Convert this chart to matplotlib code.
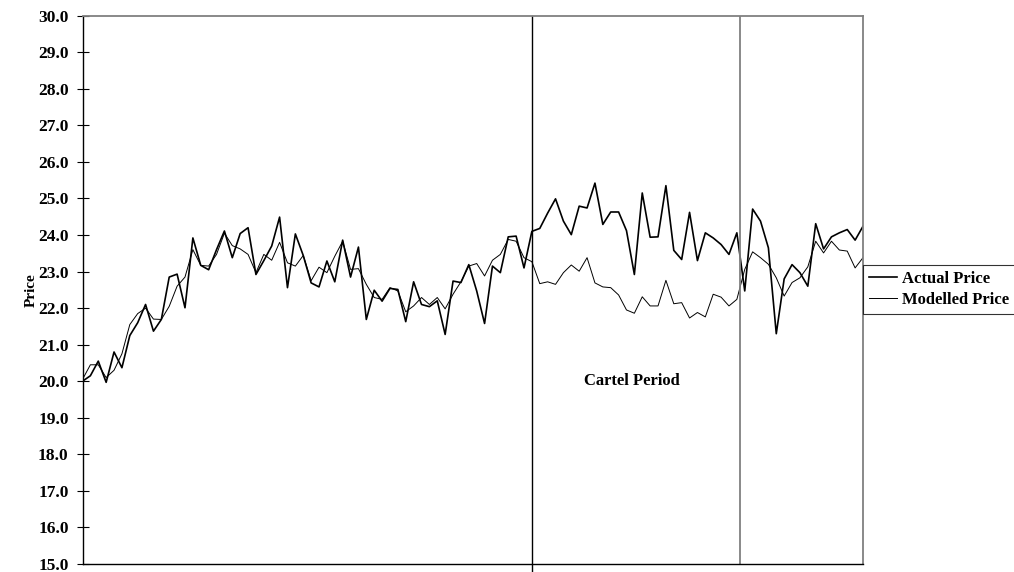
import numpy as np
import matplotlib.pyplot as plt

actual_price = [
    20.00, 20.15, 20.55, 19.97, 20.80, 20.37, 21.25, 21.60, 22.10, 21.37,
    21.69, 22.85, 22.93, 22.01, 23.92, 23.17, 23.05, 23.60, 24.11, 23.38,
    24.04, 24.20, 22.92, 23.30, 23.70, 24.49, 22.56, 24.03, 23.44, 22.69,
    22.58, 23.29, 22.72, 23.86, 22.85, 23.67, 21.69, 22.49, 22.19, 22.54,
    22.51, 21.63, 22.72, 22.10, 22.04, 22.20, 21.28, 22.74, 22.70, 23.19,
    22.47, 21.58, 23.15, 22.97, 23.95, 23.97, 23.10, 24.10, 24.18, 24.60,
    24.99, 24.38, 24.01, 24.79, 24.74, 25.42, 24.29, 24.63, 24.63, 24.12,
    22.92, 25.15, 23.94, 23.95, 25.35, 23.58, 23.33, 24.62, 23.30, 24.06,
    23.92, 23.74, 23.47, 24.06, 22.47, 24.71, 24.38, 23.65, 21.30, 22.80,
    23.19, 22.97, 22.60, 24.31, 23.62, 23.95, 24.06, 24.15, 23.86, 24.24,
]
modelled_price = [
    20.05, 20.45, 20.45, 20.10, 20.30, 20.75, 21.55, 21.85, 22.00, 21.70,
    21.69, 22.05, 22.60, 22.85, 23.60, 23.17, 23.15, 23.47, 24.05, 23.71,
    23.62, 23.47, 22.97, 23.47, 23.31, 23.80, 23.24, 23.15, 23.44, 22.75,
    23.12, 22.97, 23.42, 23.83, 23.06, 23.08, 22.65, 22.29, 22.24, 22.56,
    22.47, 21.90, 22.06, 22.29, 22.10, 22.29, 21.98, 22.38, 22.72, 23.15,
    23.22, 22.88, 23.31, 23.47, 23.88, 23.83, 23.38, 23.27, 22.67, 22.72,
    22.65, 22.97, 23.18, 23.01, 23.38, 22.69, 22.58, 22.56, 22.36, 21.95,
    21.86, 22.31, 22.06, 22.06, 22.76, 22.12, 22.15, 21.73, 21.88, 21.76,
    22.38, 22.30, 22.06, 22.24, 23.06, 23.54, 23.38, 23.20, 22.83, 22.33,
    22.70, 22.83, 23.13, 23.83, 23.51, 23.83, 23.59, 23.56, 23.10, 23.38,
]
cartel_start = 57.0
cartel_end = 83.35
y_ticks = np.arange(15.0, 30.5, 1.0)

serif = ['Liberation Serif', 'DejaVu Serif']

fig = plt.figure(figsize=(10.14, 5.72), dpi=100)
ax = fig.add_axes([82.5 / 1014, 1 - 564 / 572, (863 - 82.5) / 1014, (564 - 15.7) / 572])

months = np.arange(len(actual_price))
ax.plot(months, actual_price, color='black', lw=1.2, label='Actual Price')
ax.plot(months, modelled_price, color='black', lw=0.7, label='Modelled Price')

ax.axvline(cartel_start, color='black', lw=1.0, ymin=-0.012, clip_on=False)
ax.axvline(cartel_end, color='#808080', lw=1.3)

ax.text((cartel_start + cartel_end) / 2 - 0.5, 20.0, 'Cartel Period', ha='center', va='center',
        fontsize=12, fontweight='bold', family=serif)

ax.set_xlim(0, len(actual_price) - 1)
ax.set_ylim(15, 30)
ax.set_xticks([])
ax.set_yticks(y_ticks)
ax.set_yticklabels([f'{v:.1f}' for v in y_ticks], fontsize=12.5, fontweight='bold', family=serif)
ax.tick_params(axis='y', direction='inout', length=8, width=0.8, pad=6)
ax.set_ylabel('Price', fontsize=11, fontweight='bold', family=serif)
ax.yaxis.set_label_coords(-0.057, 0.5)

for side in ['top', 'right']:
    ax.spines[side].set_color('#808080')
    ax.spines[side].set_linewidth(1.3)
ax.spines['left'].set_linewidth(1.0)
ax.spines['bottom'].set_linewidth(1.0)

leg = fig.legend(loc='upper left', bbox_to_anchor=(863 / 1014, 1 - 265 / 572),
                 prop={'family': serif, 'weight': 'bold', 'size': 12},
                 frameon=True, fancybox=False, edgecolor='black', handlelength=1.7,
                 handletextpad=0.3, borderpad=0.35, labelspacing=0.3, borderaxespad=0)
leg.get_frame().set_linewidth(0.8)

fig.savefig('out.png', dpi=100)
